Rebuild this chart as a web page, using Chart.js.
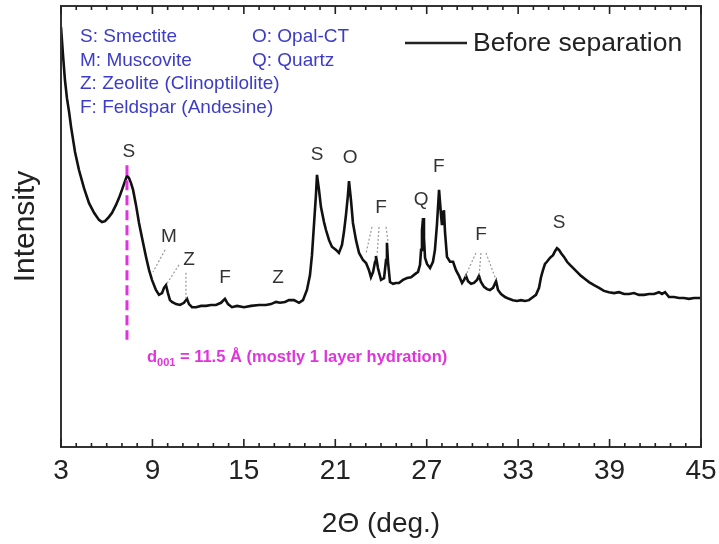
<!DOCTYPE html>
<html>
<head>
<meta charset="utf-8">
<title>XRD pattern - before separation</title>
<script src="https://cdn.jsdelivr.net/npm/chart.js@4.4.1/dist/chart.umd.min.js"></script>
<style>
  html, body { margin: 0; padding: 0; background: #fff; }
  canvas { display: block; }
</style>
</head>
<body>
<canvas id="xrd" width="719" height="544"></canvas>
<script>
// 2-theta (deg.) and intensity (arbitrary units)
const twoTheta = [
    3.00, 3.13, 3.26, 3.39, 3.53, 3.66, 3.92, 4.18, 4.51, 4.84, 5.17, 5.49, 5.69, 5.89, 6.15, 6.35,
    6.61, 6.81, 7.00, 7.20, 7.33, 7.46, 7.59, 7.73, 7.92, 8.12, 8.32, 8.58, 8.78, 8.97, 9.23, 9.43,
    9.63, 9.76, 9.89, 10.02, 10.15, 10.28, 10.55, 10.81, 11.07, 11.27, 11.40, 11.60, 11.86, 12.19,
    12.52, 12.84, 13.17, 13.50, 13.76, 13.96, 14.22, 14.55, 15.01, 15.47, 15.99, 16.45, 16.78, 17.11,
    17.37, 17.70, 17.96, 18.29, 18.62, 18.88, 19.14, 19.34, 19.47, 19.60, 19.73, 19.80, 19.93, 20.06,
    20.26, 20.39, 20.59, 20.78, 21.05, 21.24, 21.44, 21.57, 21.70, 21.83, 21.90, 22.03, 22.16, 22.36,
    22.56, 22.82, 23.02, 23.21, 23.34, 23.48, 23.61, 23.67, 23.80, 24.00, 24.20, 24.33, 24.39, 24.46,
    24.59, 24.79, 24.98, 25.18, 25.44, 25.71, 25.97, 26.23, 26.43, 26.56, 26.63, 26.69, 26.76, 26.82,
    26.89, 27.02, 27.22, 27.41, 27.54, 27.67, 27.81, 27.94, 28.00, 28.07, 28.13, 28.20, 28.33, 28.53,
    28.73, 28.92, 29.12, 29.32, 29.45, 29.58, 29.71, 29.91, 30.10, 30.30, 30.43, 30.56, 30.76, 30.96,
    31.15, 31.35, 31.55, 31.68, 31.88, 32.14, 32.40, 32.66, 32.93, 33.19, 33.45, 33.71, 33.98, 34.17,
    34.37, 34.50, 34.63, 34.76, 34.89, 35.09, 35.29, 35.42, 35.55, 35.68, 35.81, 36.01, 36.21, 36.40,
    36.60, 36.86, 37.13, 37.39, 37.65, 37.98, 38.31, 38.63, 38.96, 39.29, 39.62, 39.95, 40.28, 40.60,
    40.93, 41.26, 41.59, 41.92, 42.24, 42.44, 42.64, 42.90, 43.23, 43.56, 43.88, 44.21, 44.54, 45.00,
];
const intensity = [
    95.2, 88.9, 83.2, 79.1, 76.0, 72.6, 66.9, 62.8, 58.7, 55.3, 53.1, 51.5, 51.0, 51.2, 52.2, 53.1,
    54.9, 56.5, 58.3, 60.3, 61.5, 61.0, 59.9, 58.3, 54.9, 50.8, 47.4, 43.1, 40.1, 37.9, 35.6, 34.5,
    34.9, 36.1, 36.7, 34.9, 33.3, 32.9, 32.4, 32.2, 32.7, 33.6, 32.4, 31.7, 31.7, 32.0,
    32.0, 32.2, 32.2, 32.7, 33.6, 32.4, 31.7, 32.0, 31.7, 32.0, 32.2, 32.2, 32.4, 32.9,
    32.7, 32.9, 33.3, 33.3, 32.7, 33.3, 35.6, 39.0, 43.5, 50.3, 57.1, 61.7, 58.3, 54.4,
    51.0, 49.2, 46.9, 45.4, 44.7, 44.0, 45.8, 48.8, 52.6, 57.1, 60.3, 56.0, 50.8, 46.9,
    44.0, 42.4, 41.7, 40.1, 38.5, 39.7, 42.0, 43.3, 40.6, 37.9, 38.3, 42.4, 46.3, 42.0,
    37.4, 37.0, 37.2, 37.2, 37.9, 38.3, 38.5, 39.2, 39.7, 41.3, 44.7, 49.2, 51.9, 47.4,
    42.9, 41.5, 40.6, 42.0, 44.7, 50.3, 58.3, 52.6, 50.3, 53.3, 53.7, 48.8, 43.1, 42.0,
    42.0, 40.1, 38.8, 37.2, 37.9, 38.8, 37.6, 37.0, 37.2, 37.9, 38.8, 37.4, 36.3, 35.8,
    35.6, 36.1, 37.6, 35.6, 34.7, 34.0, 33.6, 33.3, 33.1, 33.3, 33.1, 33.3, 34.0, 34.5,
    36.1, 38.5, 40.1, 41.5, 42.0, 42.9, 43.5, 44.4, 45.1, 44.7, 44.0, 43.1, 42.0, 41.3,
    40.6, 39.7, 38.8, 38.1, 37.4, 36.7, 36.1, 35.4, 35.1, 34.9, 35.1, 34.7, 34.7, 34.9,
    34.5, 34.5, 34.7, 34.7, 35.1, 34.7, 35.1, 34.0, 34.0, 33.8, 33.8, 33.6, 33.8, 33.8,
];

const xTickValues = [3, 9, 15, 21, 27, 33, 39, 45];
const xMinorStep = 1;

// phase labels: text, 2-theta, intensity
const peakLabels = [
    ["S", 7.45, 67.0], ["M", 10.09, 47.6], ["Z", 11.4, 42.4], ["F", 13.76, 38.3],
    ["Z", 17.24, 38.3], ["S", 19.8, 66.2], ["O", 21.97, 65.5], ["F", 24.0, 54.2],
    ["Q", 26.63, 56.0], ["F", 27.8, 63.5], ["F", 30.56, 48.1], ["S", 35.68, 50.8],
];
// dotted leader lines: [x1, y1, x2, y2] in data units
const leaderLines = [
    [9.83, 44.7, 9.04, 39.7], [10.74, 41.3, 9.89, 36.7], [11.2, 39.5, 11.2, 33.3],
    [23.41, 49.9, 23.02, 44.0], [23.87, 49.9, 23.74, 43.5], [24.33, 49.9, 24.46, 46.5],
    [30.23, 44.0, 29.51, 38.5], [30.56, 44.0, 30.43, 38.5], [30.89, 44.0, 31.55, 37.9],
];
const d001Line = [7.33, 63.9, 24.3];
const d001Text = [8.64, 20.4];

const phaseKey = [
    ["S: Smectite", "O: Opal-CT"],
    ["M: Muscovite", "Q: Quartz"],
    ["Z: Zeolite (Clinoptilolite)", ""],
    ["F: Feldspar (Andesine)", ""],
];

const points = twoTheta.map((t, i) => ({ x: t, y: intensity[i] }));

const decorations = {
    id: "decorations",
    afterDatasetsDraw(chart) {
        const { ctx, chartArea: a, scales } = chart;
        const px = (v) => scales.x.getPixelForValue(v);
        const py = (v) => scales.y.getPixelForValue(v);
        ctx.save();

        // frame
        ctx.strokeStyle = "#333";
        ctx.lineWidth = 2;
        ctx.strokeRect(a.left, a.top, a.right - a.left, a.bottom - a.top);

        // inward ticks top and bottom
        ctx.lineWidth = 1.6;
        ctx.strokeStyle = "#222";
        for (let v = 3; v <= 45; v += xMinorStep) {
            const major = xTickValues.includes(v);
            const len = major ? 8 : 4;
            const x = px(v);
            ctx.beginPath();
            ctx.moveTo(x, a.bottom);
            ctx.lineTo(x, a.bottom - len);
            ctx.moveTo(x, a.top);
            ctx.lineTo(x, a.top + len);
            ctx.stroke();
        }

        // leader lines
        ctx.strokeStyle = "#999";
        ctx.lineWidth = 1.2;
        ctx.setLineDash([2, 2]);
        leaderLines.forEach(([x1, y1, x2, y2]) => {
            ctx.beginPath();
            ctx.moveTo(px(x1), py(y1));
            ctx.lineTo(px(x2), py(y2));
            ctx.stroke();
        });

        // d001 marker
        ctx.strokeStyle = "#e033dd";
        ctx.lineWidth = 3;
        ctx.setLineDash([10, 5]);
        ctx.beginPath();
        ctx.moveTo(px(d001Line[0]), py(d001Line[1]));
        ctx.lineTo(px(d001Line[0]), py(d001Line[2]));
        ctx.stroke();
        ctx.setLineDash([]);

        // peak labels
        ctx.fillStyle = "#333";
        ctx.font = "19px 'Liberation Sans', Arial, sans-serif";
        ctx.textAlign = "center";
        ctx.textBaseline = "middle";
        peakLabels.forEach(([t, x, y]) => ctx.fillText(t, px(x), py(y)));

        // d001 text
        ctx.fillStyle = "#e033dd";
        ctx.textAlign = "left";
        let tx = px(d001Text[0]);
        const ty = py(d001Text[1]);
        ctx.font = "bold 16.5px 'Liberation Sans', Arial, sans-serif";
        ctx.fillText("d", tx, ty);
        tx += ctx.measureText("d").width;
        ctx.font = "bold 11px 'Liberation Sans', Arial, sans-serif";
        ctx.fillText("001", tx, ty + 6);
        tx += ctx.measureText("001").width;
        ctx.font = "bold 16.5px 'Liberation Sans', Arial, sans-serif";
        ctx.fillText(" = 11.5 \u00C5 (mostly 1 layer hydration)", tx, ty);

        // phase key
        ctx.fillStyle = "#3c3cc8";
        ctx.font = "19px 'Liberation Sans', Arial, sans-serif";
        phaseKey.forEach((row, i) => {
            const y = a.top + 31 + i * 23.5;
            ctx.fillText(row[0], a.left + 19, y);
            if (row[1]) ctx.fillText(row[1], a.left + 191, y);
        });

        // series legend
        ctx.strokeStyle = "#222";
        ctx.lineWidth = 2.5;
        ctx.beginPath();
        ctx.moveTo(a.left + 344, a.top + 37);
        ctx.lineTo(a.left + 406, a.top + 37);
        ctx.stroke();
        ctx.fillStyle = "#222";
        ctx.font = "26.5px 'Liberation Sans', Arial, sans-serif";
        ctx.fillText(chart.data.datasets[0].label, a.left + 412, a.top + 38);

        ctx.restore();
    },
};

new Chart(document.getElementById("xrd"), {
    type: "line",
    data: {
        datasets: [
            {
                label: "Before separation",
                data: points,
                borderColor: "#111",
                borderWidth: 2.6,
                pointRadius: 0,
                tension: 0,
                fill: false,
            },
        ],
    },
    options: {
        responsive: false,
        devicePixelRatio: 1,
        animation: false,
        layout: { padding: { top: 6, right: 18, left: 0, bottom: 0 } },
        plugins: { legend: { display: false }, tooltip: { enabled: false } },
        scales: {
            x: {
                type: "linear",
                min: 3,
                max: 45,
                afterBuildTicks: (s) => { s.ticks = xTickValues.map((v) => ({ value: v })); },
                afterFit: (s) => {
                    s.height = 97;
                    s.paddingLeft = 0;
                    s.paddingRight = 0;
                },
                grid: { display: false, drawTicks: false },
                border: { display: false },
                ticks: {
                    autoSkip: false,
                    maxRotation: 0,
                    padding: 7,
                    color: "#222",
                    font: { family: "'Liberation Sans', sans-serif", size: 28 },
                },
                title: {
                    display: true,
                    text: "2\u0398 (deg.)",
                    color: "#222",
                    padding: { top: 0, bottom: 3 },
                    font: { family: "'Liberation Sans', sans-serif", size: 28 },
                },
            },
            y: {
                min: 0,
                max: 100,
                afterFit: (s) => { s.width = 61; },
                grid: { display: false, drawTicks: false },
                border: { display: false },
                ticks: { display: false },
                title: {
                    display: true,
                    text: "Intensity",
                    color: "#222",
                    padding: { top: 8, bottom: 0 },
                    font: { family: "'Liberation Sans', sans-serif", size: 30 },
                },
            },
        },
    },
    plugins: [decorations],
});
</script>
</body>
</html>
